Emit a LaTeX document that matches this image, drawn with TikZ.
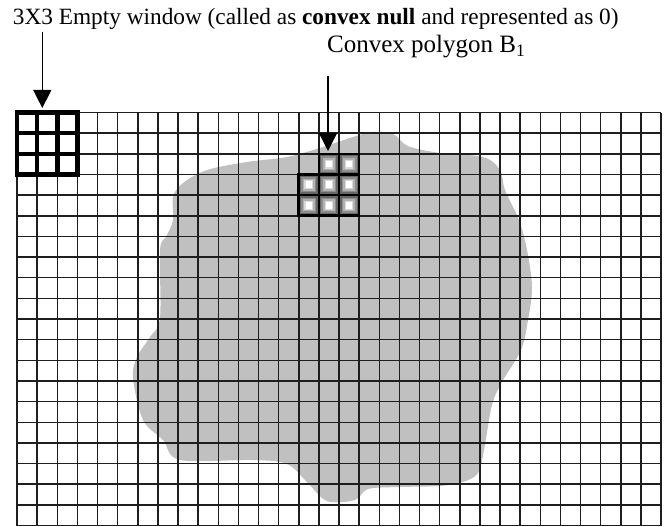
\documentclass[tikz,border=0pt]{standalone}
\usepackage{fontspec}
\setmainfont{Liberation Serif}
\usetikzlibrary{arrows.meta, positioning}
\definecolor{blobgray}{RGB}{192,192,192}
\definecolor{gridink}{RGB}{30,30,30}

\begin{document}
\begin{tikzpicture}[x=1pt, y=-1pt,
    lbl/.style={inner sep=0pt, anchor=base west},
    pointer/.style={-{Triangle[length=18pt, width=18pt]}, line width=1.4pt},
    gridline/.style={draw=gridink, line width=1.5pt},
    emptywin/.style={draw=black, line width=4.5pt},
    polywin/.style={draw=black, line width=2.6pt}
  ]
    \useasboundingbox (0,0) rectangle (667,527);

    %% Labels
    \node[lbl, font=\fontsize{23.3}{26}\selectfont] (emptylbl) at (12.7,25)
      {3X3 Empty window (called as \textbf{convex null} and represented as 0)};
    \node[lbl, font=\fontsize{25}{28}\selectfont] (polylbl) at (327,53)
      {Convex polygon B\textsubscript{1}};

    %% Gray region under the grid
    \fill[blobgray] plot[smooth cycle, tension=0.55] coordinates {
      (353,137) (372,132) (393,134) (408,146) (440,153) (483,157) (500,170)
      (505,190) (519,220) (527,250) (532,287) (528,320) (521,350) (502,382)
      (492,405) (484,450) (478,473) (463,482) (440,486) (400,487) (368,489)
      (355,500) (327,501) (307,482) (287,464) (253,460) (180,460) (163,440)
      (143,420) (133,378) (137,357) (150,337) (160,318) (160,250) (166,237)
      (173,220) (173,197) (183,183) (207,170) (247,162) (287,157) (320,148)
      (338,142)};

    %% Grid of cells
    \begin{scope}[shift={(17,112.5)}, x=20.125pt, y=-20.65pt]
      \foreach \i in {0,...,32} \draw[gridline] (\i,0) -- (\i,20);
      \foreach \j in {0,...,20} \draw[gridline] (0,\j) -- (32,\j);

      %% Empty window
      \draw[emptywin] (0,0) rectangle (3,3);
      \foreach \i in {1,2} {
        \draw[emptywin] (\i,0) -- (\i,3);
        \draw[emptywin] (0,\i) -- (3,\i);
      }

      %% Window on the polygon
      \foreach \c/\r in {15/2,16/2,14/3,15/3,16/3,14/4,15/4,16/4} {
        \foreach \ins/\tone in {0.05/60,0.13/45,0.21/30,0.28/15,0.34/0}
          \fill[black!\tone] (\c+\ins,\r+\ins) rectangle (\c+1-\ins,\r+1-\ins);
        \draw[polywin] (\c,\r) rectangle ++(1,1);
      }
    \end{scope}

    %% Arrows
    \coordinate (emptytip) at (42.3,108);
    \coordinate (polytip) at (328,151);
    \draw[pointer, shorten <=2pt] (emptylbl.south -| emptytip) -- (emptytip);
    \draw[pointer, shorten <=17pt] (polylbl.south -| polytip) -- (polytip);
  \end{tikzpicture}
\end{document}
